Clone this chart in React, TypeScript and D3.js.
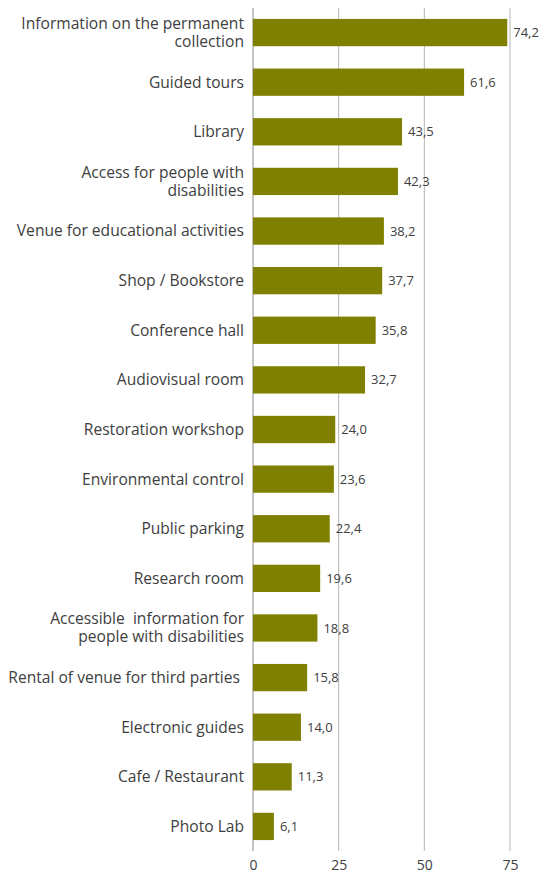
import { useEffect, useRef } from "react";
import { select, scaleBand, scaleLinear, axisBottom } from "d3";

const categories = [
  "Information on the permanent\ncollection",
  "Guided tours",
  "Library",
  "Access for people with\ndisabilities",
  "Venue for educational activities",
  "Shop / Bookstore",
  "Conference hall",
  "Audiovisual room",
  "Restoration workshop",
  "Environmental control",
  "Public parking",
  "Research room",
  "Accessible  information for\npeople with disabilities",
  "Rental of venue for third parties ",
  "Electronic guides",
  "Cafe / Restaurant",
  "Photo Lab",
];
const values = [74.2, 61.6, 43.5, 42.3, 38.2, 37.7, 35.8, 32.7, 24.0, 23.6, 22.4, 19.6, 18.8, 15.8, 14.0, 11.3, 6.1];
const ticks = [0, 25, 50, 75];

const width = 544;
const height = 875;
const font = "'Open Sans', sans-serif";

export default function App() {
  const svgRef = useRef<SVGSVGElement | null>(null);

  useEffect(() => {
    if (!svgRef.current) return;
    const svg = select(svgRef.current);
    svg.selectAll("*").remove();

    const margin = { top: 8, right: 0, bottom: 24, left: 253 };
    const innerHeight = height - margin.top - margin.bottom;

    const x = scaleLinear().domain([0, 75]).range([0, 257]);
    const y = scaleBand<number>()
      .domain(values.map((_, i) => i))
      .range([0, innerHeight])
      .paddingInner(0.45)
      .paddingOuter(0.22);

    const chart = svg
      .append("g")
      .attr("transform", `translate(${margin.left},${margin.top})`);

    // grid lines
    chart
      .append("g")
      .selectAll("line")
      .data(ticks)
      .enter()
      .append("line")
      .attr("x1", (d) => x(d))
      .attr("x2", (d) => x(d))
      .attr("y1", 0)
      .attr("y2", innerHeight)
      .attr("stroke", (d) => (d === 0 ? "#888" : "#b5b5b5"))
      .attr("stroke-width", 1);

    // bars
    chart
      .append("g")
      .selectAll("rect")
      .data(values)
      .enter()
      .append("rect")
      .attr("x", x(0))
      .attr("y", (_, i) => y(i)!)
      .attr("width", (d) => x(d) - x(0))
      .attr("height", y.bandwidth())
      .attr("fill", "#808000");

    // value labels
    chart
      .append("g")
      .selectAll("text")
      .data(values)
      .enter()
      .append("text")
      .attr("x", (d) => x(d) + 6)
      .attr("y", (_, i) => y(i)! + y.bandwidth() / 2)
      .attr("dy", "0.35em")
      .attr("font-size", 13)
      .attr("fill", "#404040")
      .text((d) => d.toFixed(1).replace(".", ","));

    // category labels
    const labels = chart
      .append("g")
      .selectAll("text")
      .data(categories)
      .enter()
      .append("text")
      .attr("text-anchor", "end")
      .attr("font-size", 15.6)
      .attr("fill", "#404040")
      .style("white-space", "pre")
      .attr("transform", (_, i) => `translate(-9,${y(i)! + y.bandwidth() / 2})`);

    labels.each(function (d) {
      const lines = d.split("\n");
      const t = select(this);
      lines.forEach((l, k) => {
        t.append("tspan")
          .attr("x", 0)
          .attr("y", (k - (lines.length - 1) / 2) * 18)
          .attr("dy", "0.35em")
          .text(l);
      });
    });

    // x axis
    const axis = chart
      .append("g")
      .attr("transform", `translate(0,${innerHeight})`)
      .call(axisBottom(x).tickValues(ticks).tickSize(0).tickPadding(9));
    axis.select(".domain").remove();
    axis
      .selectAll("text")
      .attr("font-size", 14)
      .attr("fill", "#404040")
      .attr("font-family", font);
  }, []);

  return (
    <svg
      ref={svgRef}
      width={width}
      height={height}
      style={{ position: "absolute", left: 0, top: 0, background: "#fff" }}
      fontFamily={font}
    />
  );
}
